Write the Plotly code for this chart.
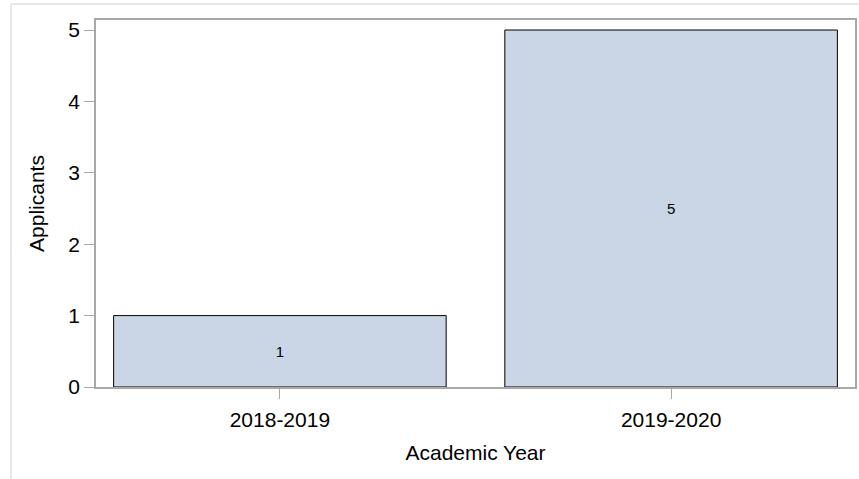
import plotly.graph_objects as go

years = ["2018-2019", "2019-2020"]
applicants = [1, 5]
y_ticks = [0, 1, 2, 3, 4, 5]

font_family = "Liberation Sans, Arial, sans-serif"

fig = go.Figure(
    go.Bar(
        x=years,
        y=applicants,
        width=0.85,
        marker=dict(color="#CAD5E5", line=dict(color="#000000", width=1)),
        text=[str(v) for v in applicants],
        textposition="inside",
        insidetextanchor="middle",
        textfont=dict(size=15, color="#000000", family=font_family),
        textangle=0,
        showlegend=False,
    )
)

axis_color = "#A8A8A8"

fig.update_layout(
    width=859,
    height=479,
    margin=dict(l=96, r=2, t=20, b=92),
    paper_bgcolor="white",
    plot_bgcolor="white",
    font=dict(family=font_family, color="#000000"),
    xaxis=dict(
        range=[-0.47, 1.47],
        showline=True,
        linecolor=axis_color,
        linewidth=1.5,
        mirror=True,
        ticks="outside",
        ticklen=10,
        tickcolor=axis_color,
        tickfont=dict(size=21),
        ticklabelstandoff=3,
        title=dict(text="Academic Year", font=dict(size=21), standoff=15),
        showgrid=False,
    ),
    yaxis=dict(
        range=[0, 5.14],
        tickvals=y_ticks,
        showline=True,
        linecolor=axis_color,
        linewidth=1.5,
        mirror=True,
        ticks="outside",
        ticklen=10,
        tickcolor=axis_color,
        tickfont=dict(size=21),
        title=dict(text="Applicants", font=dict(size=21), standoff=18),
        showgrid=False,
        zeroline=False,
    ),
    shapes=[
        dict(type="line", xref="paper", yref="paper", x0=-0.112, x1=1.01, y0=1.0436, y1=1.0436,
             line=dict(color="#E0E0E0", width=1.5)),
        dict(type="line", xref="paper", yref="paper", x0=-0.112, x1=-0.112, y0=-0.26, y1=1.0436,
             line=dict(color="#E0E0E0", width=1.5)),
    ],
)

fig.write_html(
    "out.html",
    config={"displayModeBar": False},
    post_script="document.body.style.margin='0';document.body.style.padding='0';document.documentElement.style.overflow='hidden';",
)
